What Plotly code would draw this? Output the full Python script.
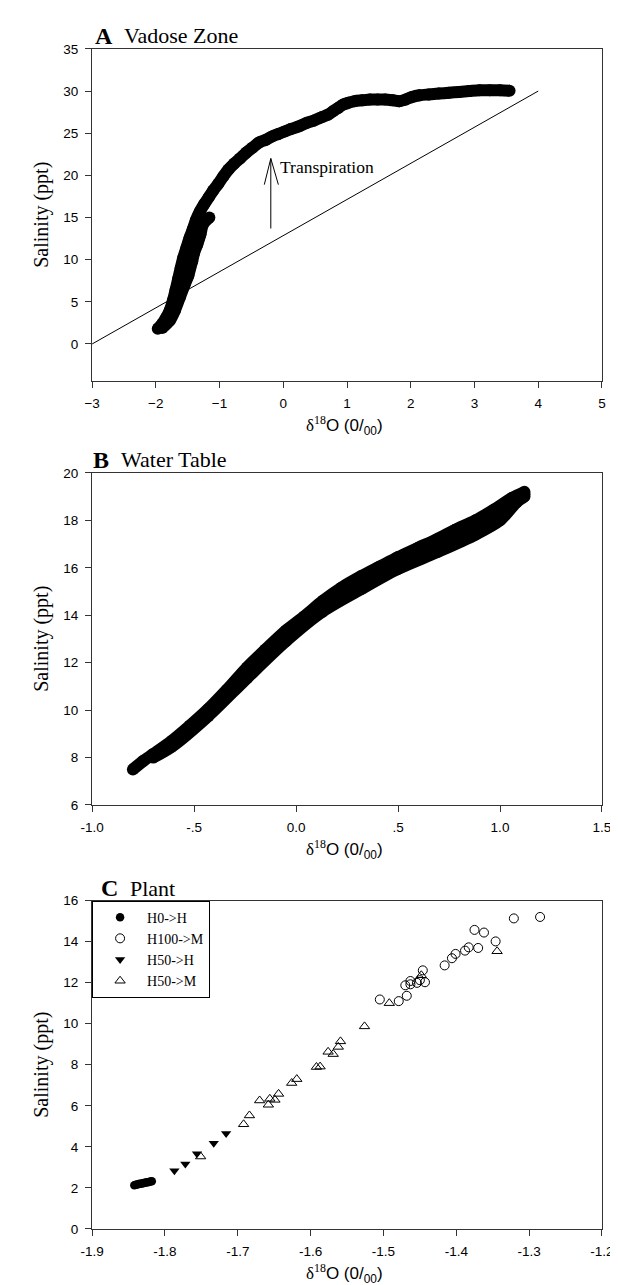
import plotly.graph_objects as go

W, H = 618, 1285

# ---------------- Panel A: Vadose Zone ----------------
a_band_x = [-1.97, -1.90, -1.84, -1.78, -1.73, -1.69, -1.65, -1.61, -1.57, -1.52, -1.47, -1.42,
            -1.37, -1.31, -1.24, -1.17, -1.10, -1.02, -0.94, -0.86, -0.77, -0.68, -0.58, -0.48,
            -0.38, -0.28, -0.18, -0.08, 0.02, 0.12, 0.24, 0.36, 0.48, 0.60, 0.70, 0.78, 0.86,
            0.94, 1.02, 1.12, 1.24, 1.36, 1.48, 1.60, 1.72, 1.82, 1.92, 2.02, 2.14, 2.28, 2.44,
            2.60, 2.76, 2.92, 3.08, 3.24, 3.40, 3.55]
a_band_y = [1.8, 2.4, 3.1, 4.0, 5.2, 6.4, 7.7, 9.0, 10.2, 11.4, 12.6, 13.6,
            14.7, 15.7, 16.6, 17.4, 18.2, 19.0, 19.9, 20.7, 21.4, 22.0, 22.7, 23.3,
            23.9, 24.2, 24.6, 24.9, 25.2, 25.5, 25.8, 26.2, 26.5, 26.9, 27.2, 27.6, 28.0,
            28.4, 28.6, 28.8, 28.9, 29.0, 29.0, 29.0, 28.9, 28.8, 29.0, 29.3, 29.5, 29.6, 29.7,
            29.8, 29.9, 30.0, 30.1, 30.1, 30.1, 30.05]
a_edge_x = [-1.90, -1.78, -1.70, -1.62, -1.55, -1.49, -1.46, -1.43, -1.40, -1.35, -1.30, -1.26, -1.16]
a_edge_y = [1.9, 2.8, 4.0, 5.6, 7.0, 8.1, 9.0, 9.8, 10.8, 11.8, 13.0, 14.2, 15.0]
a_line_x = [-3, 4]
a_line_y = [0, 30]
a_arrow_x = -0.196
a_arrow_y0, a_arrow_y1 = 13.7, 22.0
a_barb_x = [-0.298, -0.077]
a_barb_y = 18.9
a_xticks = [-3, -2, -1, 0, 1, 2, 3, 4, 5]
a_yticks = [0, 5, 10, 15, 20, 25, 30, 35]

# ---------------- Panel B: Water Table ----------------
b_upper_x = [-0.80, -0.75, -0.70, -0.61, -0.52, -0.43, -0.34, -0.24, -0.15, -0.05, 0.04, 0.13,
             0.22, 0.32, 0.41, 0.50, 0.60, 0.69, 0.78, 0.88, 0.97, 1.06, 1.12]
b_upper_y = [7.50, 7.85, 8.15, 8.70, 9.35, 10.05, 10.85, 11.80, 12.55, 13.35, 13.95, 14.60,
             15.15, 15.65, 16.05, 16.45, 16.85, 17.20, 17.60, 18.00, 18.45, 18.95, 19.20]
b_middle_x = [-0.43, -0.24, -0.05, 0.13, 0.32, 0.50, 0.69, 0.88, 0.97, 1.06, 1.12]
b_middle_y = [9.90, 11.58, 13.12, 14.38, 15.38, 16.20, 16.92, 17.70, 18.15, 18.70, 19.10]
b_lower_x = [-0.70, -0.61, -0.43, -0.24, -0.05, 0.13, 0.32, 0.50, 0.69, 0.88, 1.00, 1.08, 1.12]
b_lower_y = [8.00, 8.45, 9.75, 11.35, 12.90, 14.15, 15.10, 15.95, 16.65, 17.40, 18.00, 18.75, 19.00]
b_xticks = [-1.0, -0.5, 0.0, 0.5, 1.0, 1.5]
b_xticktext = ["-1.0", "-.5", "0.0", ".5", "1.0", "1.5"]
b_yticks = [6, 8, 10, 12, 14, 16, 18, 20]

# ---------------- Panel C: Plant ----------------
c_h0h_x = [-1.842, -1.840, -1.838, -1.836, -1.834, -1.832, -1.830, -1.828, -1.826, -1.824, -1.822, -1.820, -1.818]
c_h0h_y = [2.13, 2.15, 2.17, 2.19, 2.20, 2.22, 2.23, 2.25, 2.26, 2.28, 2.29, 2.31, 2.32]
c_h100m_x = [-1.505, -1.479, -1.468, -1.470, -1.463, -1.463, -1.454, -1.450, -1.446, -1.443,
             -1.416, -1.406, -1.401, -1.388, -1.383, -1.375, -1.370, -1.362, -1.346, -1.321, -1.285]
c_h100m_y = [11.18, 11.10, 11.36, 11.87, 12.08, 11.92, 11.99, 12.12, 12.60, 12.02,
             12.84, 13.19, 13.40, 13.56, 13.72, 14.57, 13.69, 14.44, 14.01, 15.13, 15.20]
c_h50h_x = [-1.787, -1.772, -1.756, -1.733, -1.716]
c_h50h_y = [2.84, 3.16, 3.66, 4.17, 4.65]
c_h50m_x = [-1.751, -1.692, -1.684, -1.670, -1.658, -1.656, -1.649, -1.644, -1.626, -1.619,
            -1.592, -1.587, -1.576, -1.569, -1.562, -1.559, -1.526, -1.492, -1.448, -1.344]
c_h50m_y = [3.53, 5.10, 5.53, 6.26, 6.05, 6.34, 6.29, 6.58, 7.11, 7.30,
            7.89, 7.91, 8.63, 8.52, 8.87, 9.14, 9.87, 11.00, 12.36, 13.53]
c_xticks = [-1.9, -1.8, -1.7, -1.6, -1.5, -1.4, -1.3, -1.2]
c_yticks = [0, 2, 4, 6, 8, 10, 12, 14, 16]

SERIF = "Liberation Serif"
SANS = "Liberation Sans"


def px(x):
    return x / W


def py(y):
    return 1 - y / H


def band(xs, ys, xa, ya):
    return go.Scatter(x=xs, y=ys, mode="lines+markers",
                      line=dict(color="black", width=12, shape="spline", smoothing=0.8),
                      marker=dict(color="black", size=12),
                      xaxis=xa, yaxis=ya, showlegend=False, hoverinfo="skip")


fig = go.Figure()

# Panel A
fig.add_trace(go.Scatter(x=a_line_x, y=a_line_y, mode="lines", line=dict(color="black", width=1),
                         xaxis="x", yaxis="y", showlegend=False, hoverinfo="skip"))
fig.add_trace(band(a_edge_x, a_edge_y, "x", "y"))
fig.add_trace(band(a_band_x, a_band_y, "x", "y"))

# Panel B
fig.add_trace(band(b_lower_x, b_lower_y, "x2", "y2"))
fig.add_trace(band(b_middle_x, b_middle_y, "x2", "y2"))
fig.add_trace(band(b_upper_x, b_upper_y, "x2", "y2"))

# Panel C
fig.add_trace(go.Scatter(x=c_h0h_x, y=c_h0h_y, mode="markers", name="H0->H",
                         marker=dict(symbol="circle", color="black", size=8.5),
                         xaxis="x3", yaxis="y3"))
fig.add_trace(go.Scatter(x=c_h100m_x, y=c_h100m_y, mode="markers", name="H100->M",
                         marker=dict(symbol="circle-open", color="black", size=9, line=dict(width=1)),
                         xaxis="x3", yaxis="y3"))
fig.add_trace(go.Scatter(x=c_h50h_x, y=c_h50h_y, mode="markers", name="H50->H",
                         marker=dict(symbol="triangle-down", color="black", size=9),
                         xaxis="x3", yaxis="y3"))
fig.add_trace(go.Scatter(x=c_h50m_x, y=c_h50m_y, mode="markers", name="H50->M",
                         marker=dict(symbol="triangle-up-open", color="black", size=9, line=dict(width=1)),
                         xaxis="x3", yaxis="y3"))

xdom = [px(75), px(605.5)]
ax_common = dict(showline=True, linecolor="#333", linewidth=1, mirror=True, ticks="outside",
                 ticklen=6, tickwidth=1, tickcolor="#333", showgrid=False, zeroline=False,
                 tickfont=dict(family=SANS, size=13.5, color="black"))

fig.update_layout(
    width=W, height=H, margin=dict(l=0, r=0, t=0, b=0),
    paper_bgcolor="white", plot_bgcolor="white",
    xaxis=dict(domain=xdom, anchor="y", range=[-3, 5], tickvals=a_xticks, ticklabelstandoff=4, **ax_common),
    yaxis=dict(domain=[py(370), py(34.3)], anchor="x", range=[-4.35, 35], tickvals=a_yticks,
               ticklabelstandoff=4, **ax_common),
    xaxis2=dict(domain=xdom, anchor="y2", range=[-1, 1.5], tickvals=b_xticks, ticktext=b_xticktext,
                ticklabelstandoff=4, **ax_common),
    yaxis2=dict(domain=[py(799.3), py(463.3)], anchor="x2", range=[6, 20], tickvals=b_yticks,
                ticklabelstandoff=4, **ax_common),
    xaxis3=dict(domain=xdom, anchor="y3", range=[-1.9, -1.2], tickvals=c_xticks,
                ticktext=["%.1f" % v for v in c_xticks], ticklabelstandoff=4, **ax_common),
    yaxis3=dict(domain=[py(1228.3), py(896)], anchor="x3", range=[0, 16], tickvals=c_yticks,
                ticklabelstandoff=4, **ax_common),
    showlegend=True,
    legend=dict(x=px(75), y=py(896), xanchor="left", yanchor="top", bgcolor="white",
                bordercolor="black", borderwidth=1, itemwidth=44,
                font=dict(family=SERIF, size=14, color="black")),
)

# Transpiration arrow (shaft + open V head)
fig.add_shape(type="line", xref="x", yref="y", x0=a_arrow_x, x1=a_arrow_x, y0=a_arrow_y0, y1=a_arrow_y1,
              line=dict(color="black", width=1))
for bx in a_barb_x:
    fig.add_shape(type="line", xref="x", yref="y", x0=bx, x1=a_arrow_x, y0=a_barb_y, y1=a_arrow_y1,
                  line=dict(color="black", width=1))
fig.add_annotation(x=-0.07, y=20.97, xref="x", yref="y", text="Transpiration", showarrow=False,
                   xanchor="left", yanchor="middle", borderpad=0,
                   font=dict(family=SERIF, size=17.5, color="black"))

# Panel titles
titles = [("A", "Vadose Zone", 77, 107, 21), ("B", "Water Table", 75, 104, 450), ("C", "Plant", 83, 113, 883.5)]
for letter, txt, xl, xt, yc in titles:
    fig.add_annotation(x=px(xl), y=py(yc), xref="paper", yref="paper", text="<b>%s</b>" % letter,
                       showarrow=False, xanchor="left", yanchor="middle", borderpad=0,
                       font=dict(family=SERIF, size=24, color="black"))
    fig.add_annotation(x=px(xt), y=py(yc), xref="paper", yref="paper", text=txt,
                       showarrow=False, xanchor="left", yanchor="middle", borderpad=0,
                       font=dict(family=SERIF, size=22, color="black"))

# Axis titles
xtitle = '<span style="font-family:Liberation Serif">δ<sup>18</sup></span>O (0/<sub>00</sub>)'
for yc in [415, 844, 1273]:
    fig.add_annotation(x=px(338), y=py(yc), xref="paper", yref="paper", text=xtitle, showarrow=False,
                       xanchor="center", yanchor="middle", font=dict(family=SANS, size=17, color="black"))
for yc in [202, 631, 1062]:
    fig.add_annotation(x=px(22), y=py(yc), xref="paper", yref="paper", text="Salinity (ppt)",
                       showarrow=False, textangle=-90, xanchor="center", yanchor="middle",
                       font=dict(family=SERIF, size=20, color="black"))

fig.write_html("out.html")
